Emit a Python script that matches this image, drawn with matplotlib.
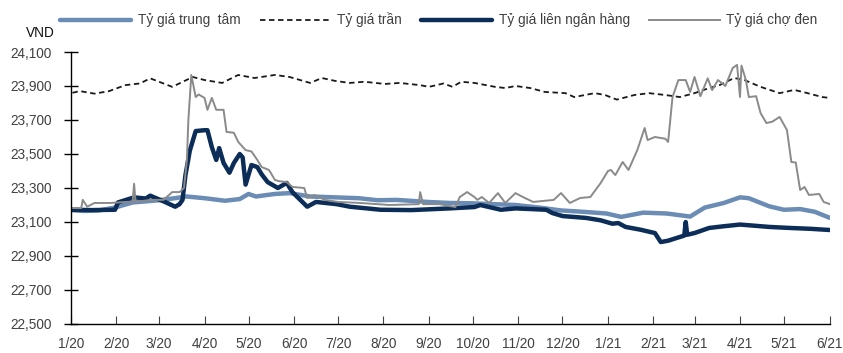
import matplotlib
matplotlib.use("Agg")
import matplotlib.pyplot as plt
import matplotlib.dates as mdates
from matplotlib.ticker import FuncFormatter, FixedLocator
import pandas as pd

plt.rcParams['font.family'] = ['Liberation Sans Narrow', 'Liberation Sans', 'DejaVu Sans']

# ---- data (VND per USD) ----
central_dates = ["2020-01-01", "2020-01-10", "2020-01-20", "2020-01-31", "2020-02-12", "2020-02-22",
                 "2020-03-01", "2020-03-10", "2020-03-20", "2020-04-01", "2020-04-15", "2020-04-25",
                 "2020-05-01", "2020-05-06", "2020-05-19", "2020-05-29", "2020-06-12", "2020-06-29",
                 "2020-07-15", "2020-07-28", "2020-08-10", "2020-08-31", "2020-09-15", "2020-09-30",
                 "2020-10-15", "2020-10-30", "2020-11-15", "2020-11-30", "2020-12-15", "2020-12-31",
                 "2021-01-10", "2021-01-25", "2021-02-10", "2021-02-26", "2021-03-08", "2021-03-21",
                 "2021-04-01", "2021-04-07", "2021-04-21", "2021-05-01", "2021-05-12", "2021-05-22",
                 "2021-06-01"]
central_vals = [23170, 23165, 23168, 23185, 23215, 23222,
                23228, 23238, 23250, 23240, 23225, 23235,
                23265, 23250, 23265, 23270, 23250, 23245,
                23240, 23228, 23230, 23218, 23212, 23210,
                23205, 23200, 23185, 23168, 23160, 23150,
                23130, 23155, 23150, 23132, 23185, 23212,
                23245, 23240, 23192, 23172, 23176, 23160,
                23125]

ceiling_dates = ["2020-01-02", "2020-01-07", "2020-01-17", "2020-01-27", "2020-02-07", "2020-02-17",
                 "2020-02-24", "2020-03-01", "2020-03-10", "2020-03-24", "2020-04-01", "2020-04-13",
                 "2020-04-24", "2020-05-05", "2020-05-19", "2020-05-29", "2020-06-12", "2020-06-20",
                 "2020-06-29", "2020-07-09", "2020-07-19", "2020-08-02", "2020-08-12", "2020-08-26",
                 "2020-09-01", "2020-09-11", "2020-09-17", "2020-09-23", "2020-10-02", "2020-10-16",
                 "2020-10-23", "2020-10-30", "2020-11-09", "2020-11-19", "2020-12-03", "2020-12-09",
                 "2020-12-23", "2020-12-30", "2021-01-07", "2021-01-19", "2021-01-29", "2021-02-09",
                 "2021-02-19", "2021-03-01", "2021-03-11", "2021-03-18", "2021-03-28", "2021-04-04",
                 "2021-04-15", "2021-04-28", "2021-05-08", "2021-05-17", "2021-05-27", "2021-06-01"]
ceiling_vals = [23860, 23870, 23855, 23870, 23905, 23915,
                23945, 23925, 23895, 23953, 23935, 23918,
                23965, 23947, 23965, 23953, 23918, 23947,
                23930, 23918, 23925, 23912, 23918, 23905,
                23895, 23915, 23895, 23925, 23918, 23895,
                23888, 23900, 23888, 23865, 23858, 23835,
                23858, 23847, 23820, 23847, 23858, 23847,
                23835, 23858, 23888, 23905, 23947, 23935,
                23895, 23858, 23877, 23858, 23835, 23830]

interbank_dates = ["2020-01-01", "2020-01-15", "2020-01-31", "2020-02-02", "2020-02-13", "2020-02-21",
                   "2020-02-24", "2020-03-05", "2020-03-12", "2020-03-15", "2020-03-17", "2020-03-19",
                   "2020-03-22", "2020-03-26", "2020-04-01", "2020-04-03", "2020-04-06", "2020-04-09",
                   "2020-04-11", "2020-04-14", "2020-04-18", "2020-04-21", "2020-04-25", "2020-04-27",
                   "2020-04-29", "2020-05-03", "2020-05-07", "2020-05-10", "2020-05-14", "2020-05-21",
                   "2020-05-27", "2020-05-31", "2020-06-10", "2020-06-16", "2020-06-30", "2020-07-09",
                   "2020-07-30", "2020-08-20", "2020-09-15", "2020-10-02", "2020-10-06", "2020-10-20",
                   "2020-10-30", "2020-11-20", "2020-11-24", "2020-12-01", "2020-12-17", "2020-12-27",
                   "2021-01-04", "2021-01-08", "2021-01-13", "2021-01-23", "2021-02-02", "2021-02-06",
                   "2021-02-11", "2021-02-19", "2021-02-22", "2021-02-23", "2021-02-24", "2021-03-01",
                   "2021-03-11", "2021-03-21", "2021-04-01", "2021-04-21", "2021-05-05", "2021-05-19",
                   "2021-06-01"]
interbank_vals = [23172, 23170, 23172, 23215, 23245, 23238,
                  23255, 23218, 23190, 23205, 23230, 23375,
                  23520, 23635, 23640, 23640, 23540, 23465,
                  23535, 23447, 23390, 23447, 23500, 23480,
                  23320, 23435, 23423, 23380, 23335, 23300,
                  23330, 23275, 23190, 23218, 23205, 23190,
                  23172, 23170, 23180, 23188, 23200, 23172,
                  23180, 23172, 23153, 23135, 23124, 23110,
                  23090, 23094, 23071, 23055, 23035, 22982,
                  22990, 23012, 23020, 23100, 23025, 23035,
                  23065, 23075, 23085, 23071, 23065, 23060,
                  23053]

black_dates = ["2020-01-01", "2020-01-08", "2020-01-09", "2020-01-12", "2020-01-17", "2020-01-28",
               "2020-02-02", "2020-02-12", "2020-02-13", "2020-02-14", "2020-02-24", "2020-03-04",
               "2020-03-10", "2020-03-15", "2020-03-18", "2020-03-20", "2020-03-21", "2020-03-23",
               "2020-03-26", "2020-03-28", "2020-04-01", "2020-04-03", "2020-04-06", "2020-04-09",
               "2020-04-14", "2020-04-16", "2020-04-21", "2020-04-24", "2020-04-29", "2020-05-03",
               "2020-05-07", "2020-05-10", "2020-05-15", "2020-05-19", "2020-05-22", "2020-05-27",
               "2020-05-31", "2020-06-08", "2020-06-10", "2020-06-15", "2020-06-22", "2020-07-01",
               "2020-07-16", "2020-08-05", "2020-08-25", "2020-08-26", "2020-08-28", "2020-09-08",
               "2020-09-19", "2020-09-22", "2020-09-27", "2020-10-02", "2020-10-04", "2020-10-07",
               "2020-10-12", "2020-10-18", "2020-10-23", "2020-10-30", "2020-11-04", "2020-11-11",
               "2020-11-25", "2020-11-30", "2020-12-06", "2020-12-13", "2020-12-20", "2020-12-27",
               "2021-01-01", "2021-01-03", "2021-01-06", "2021-01-11", "2021-01-15", "2021-01-21",
               "2021-01-26", "2021-01-28", "2021-02-02", "2021-02-09", "2021-02-11", "2021-02-14",
               "2021-02-18", "2021-02-23", "2021-02-26", "2021-03-01", "2021-03-05", "2021-03-10",
               "2021-03-13", "2021-03-17", "2021-03-22", "2021-03-27", "2021-03-30", "2021-04-01",
               "2021-04-02", "2021-04-05", "2021-04-07", "2021-04-12", "2021-04-15", "2021-04-19",
               "2021-04-23", "2021-04-28", "2021-05-03", "2021-05-06", "2021-05-09", "2021-05-12",
               "2021-05-15", "2021-05-18", "2021-05-25", "2021-05-28", "2021-06-01"]
black_vals = [23182, 23182, 23230, 23190, 23212, 23212,
              23215, 23220, 23325, 23218, 23230, 23230,
              23276, 23276, 23300, 23465, 23700, 23965,
              23835, 23850, 23830, 23760, 23830, 23760,
              23760, 23630, 23625, 23571, 23523, 23515,
              23465, 23423, 23406, 23347, 23340, 23335,
              23306, 23300, 23241, 23259, 23230, 23218,
              23212, 23200, 23205, 23276, 23205, 23205,
              23188, 23247, 23276, 23247, 23230, 23247,
              23212, 23270, 23212, 23270, 23247, 23218,
              23230, 23270, 23212, 23241, 23247, 23329,
              23400, 23406, 23376, 23453, 23406, 23523,
              23653, 23582, 23600, 23590, 23571, 23835,
              23935, 23935, 23865, 23953, 23840, 23945,
              23876, 23935, 23900, 24006, 24024, 23835,
              24020, 23935, 23835, 23840, 23741, 23682,
              23690, 23718, 23641, 23453, 23450, 23288,
              23306, 23259, 23265, 23218, 23206]

month_ticks = pd.date_range("2020-01-01", "2021-06-01", freq="MS")
month_labels = [f"{d.month}/{d.year % 100}" for d in month_ticks]
y_ticks = list(range(22500, 24101, 200))

series = [
    ("Tỷ giá trung  tâm", central_dates, central_vals, dict(color="#6b8cb5", lw=3.2, solid_capstyle="round")),
    ("Tỷ giá trần", ceiling_dates, ceiling_vals, dict(color="#1a1a1a", lw=1.3, linestyle=(0, (3, 2)))),
    ("Tỷ giá liên ngân hàng", interbank_dates, interbank_vals, dict(color="#0b2d57", lw=3.2, solid_capstyle="round")),
    ("Tỷ giá chợ đen", black_dates, black_vals, dict(color="#8a8a8a", lw=1.4)),
]

text_color = "#404040"
fs = 9.8

fig = plt.figure(figsize=(8.43, 3.53), dpi=100)
ax = fig.add_axes([71 / 843, 1 - 324 / 353, (829.5 - 71) / 843, (324 - 52) / 353])

for name, d, v, style in series:
    ax.plot(pd.to_datetime(d), v, label=name, **style)

ax.set_xlim(month_ticks[0], month_ticks[-1])
ax.set_ylim(22500, 24100)
ax.xaxis.set_major_locator(FixedLocator(mdates.date2num(month_ticks)))
ax.set_xticklabels(month_labels)
ax.yaxis.set_major_locator(FixedLocator(y_ticks))
ax.yaxis.set_major_formatter(FuncFormatter(lambda v, p: f"{int(v):,}"))

for s in ("top", "right"):
    ax.spines[s].set_visible(False)
for s in ("left", "bottom"):
    ax.spines[s].set_color("#000000")
    ax.spines[s].set_linewidth(1.0)

ax.tick_params(axis="y", direction="inout", length=10, width=1, pad=9,
               labelsize=fs, labelcolor=text_color)
ax.tick_params(axis="x", direction="in", length=6, width=0.8, color="#444444", pad=9,
               labelsize=fs, labelcolor=text_color)

fig.text(40 / 843, 1 - 33 / 353, "VND", ha="center", va="center", fontsize=fs, color="#111111")

leg = fig.legend(loc="center", bbox_to_anchor=(439 / 843, 1 - 20 / 353), ncol=4, frameon=False,
                 fontsize=fs, handlelength=5.2, handletextpad=0.5, columnspacing=1.4,
                 labelcolor=text_color)

fig.savefig("out.png", dpi=100)
